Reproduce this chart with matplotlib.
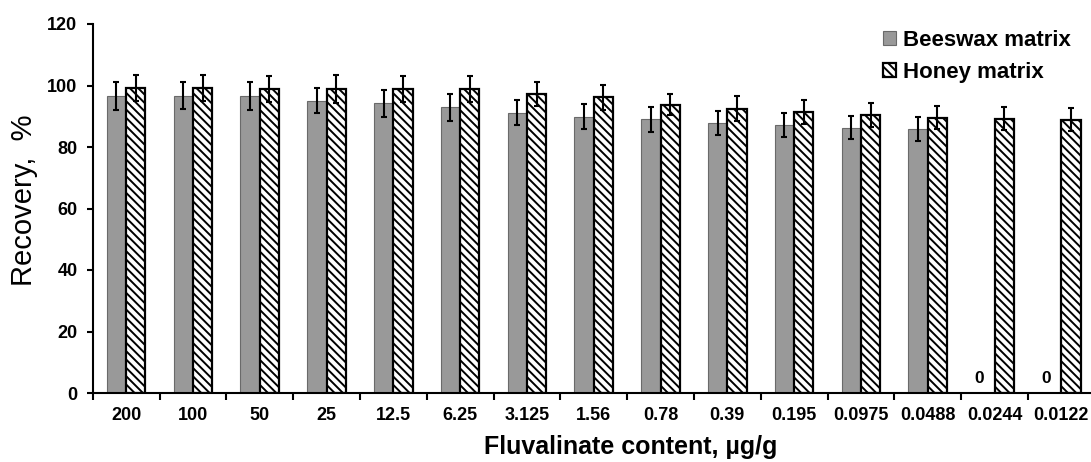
import matplotlib
matplotlib.use("Agg")
import matplotlib.pyplot as plt
import numpy as np

categories = ["200", "100", "50", "25", "12.5", "6.25", "3.125", "1.56", "0.78",
              "0.39", "0.195", "0.0975", "0.0488", "0.0244", "0.0122"]
beeswax = [96.6, 96.6, 96.6, 95.1, 94.2, 92.9, 91.2, 89.9, 89.0, 87.8, 87.2, 86.3, 85.7, 0, 0]
beeswax_err = [4.5, 4.4, 4.6, 4.1, 4.4, 4.3, 4.0, 4.1, 4.0, 4.0, 3.8, 3.8, 3.9, 0, 0]
honey = [99.2, 99.2, 98.9, 98.9, 98.9, 98.9, 97.3, 96.1, 93.8, 92.5, 91.4, 90.4, 89.5, 89.2, 88.9]
honey_err = [4.3, 4.3, 4.2, 4.5, 4.2, 4.3, 3.9, 4.0, 3.5, 4.0, 3.9, 3.75, 3.7, 3.8, 3.75]
yticks = [0, 20, 40, 60, 80, 100, 120]

plt.rcParams['font.family'] = ['Liberation Sans', 'DejaVu Sans']
plt.rcParams['hatch.linewidth'] = 1.4

W, H = 1091, 462
fig = plt.figure(figsize=(W / 100, H / 100), dpi=100)
ax_left, ax_right, ax_top, ax_bot = 92.7, 1094.7, 24, 393
ax = fig.add_axes([ax_left / W, 1 - ax_bot / H, (ax_right - ax_left) / W, (ax_bot - ax_top) / H])

x = np.arange(len(categories))
w = 0.29
ax.bar(x - w / 2, beeswax, w, color='#999999', edgecolor='#6a6a6a', linewidth=0.8,
       label='Beeswax matrix', zorder=2)
ax.bar(x + w / 2, honey, w, color='white', edgecolor='black', linewidth=1.6,
       hatch='\\\\\\\\', label='Honey matrix', zorder=2)

bw = np.array(beeswax)
be = np.array(beeswax_err)
m = bw > 0
ax.errorbar((x - w / 2)[m], bw[m], yerr=be[m], fmt='none', ecolor='black',
            elinewidth=1.5, capsize=2.3, capthick=1.5, zorder=3)
ax.errorbar(x + w / 2, honey, yerr=honey_err, fmt='none', ecolor='black',
            elinewidth=1.5, capsize=2.3, capthick=1.5, zorder=3)

for i in np.where(~m)[0]:
    ax.annotate(f"{beeswax[i]:g}", (x[i] - w / 2, 0), xytext=(-4, 5),
                textcoords='offset points', ha='center', va='bottom',
                fontsize=12.5, fontweight='bold')

ax.set_xlim(-0.5, len(categories) - 0.5)
ax.set_ylim(0, 120)
ax.set_yticks(yticks)
ax.set_yticklabels([str(t) for t in yticks], fontsize=13, fontweight='bold')
ax.set_xticks(x)
ax.set_xticklabels(categories, fontsize=13, fontweight='bold')
ax.set_xticks(np.arange(-0.5, len(categories) + 0.5, 1), minor=True)
ax.tick_params(axis='x', which='major', length=0, pad=10)
ax.tick_params(axis='x', which='minor', length=5, width=1.5, direction='out')
ax.tick_params(axis='y', which='major', length=4, width=1.5, direction='out', pad=7)

for s in ['top', 'right']:
    ax.spines[s].set_visible(False)
for s in ['left', 'bottom']:
    ax.spines[s].set_linewidth(1.5)

fig.text(24 / W, 1 - 200 / H, "Recovery,  %", rotation=90, ha='center', va='center',
         fontsize=21)
fig.text(631 / W, 1 - 454 / H, "Fluvalinate content, µg/g", ha='center', va='baseline',
         fontsize=18, fontweight='bold')

leg = fig.legend(loc='upper left', bbox_to_anchor=(872 / W, 1 - 19 / H),
                 frameon=False, borderpad=0, handlelength=0.6, handleheight=0.6,
                 handletextpad=0.3, labelspacing=0.5,
                 prop={'size': 16, 'weight': 'bold'})

fig.savefig("out.png", dpi=100)
